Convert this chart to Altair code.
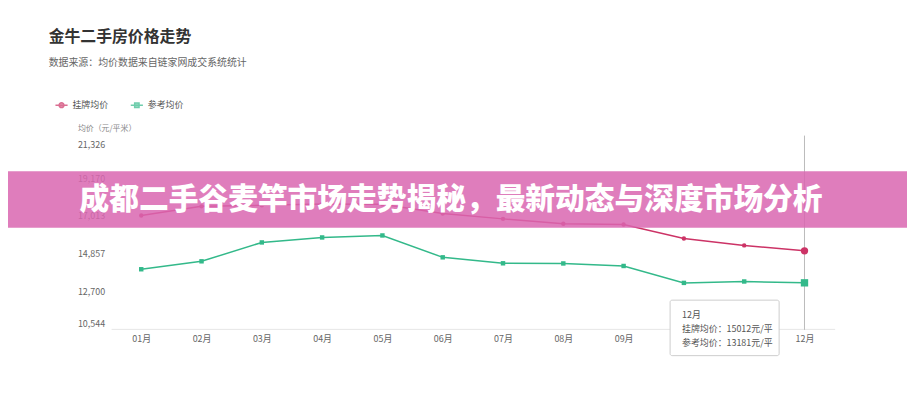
import altair as alt
import pandas as pd

# ---- data ----
months = ["01月", "02月", "03月", "04月", "05月", "06月", "07月", "08月", "09月", "10月", "11月", "12月"]
listing = [17031, 17560, 17620, 17700, 17680, 17145, 16843, 16560, 16520, 15722, 15324, 15012]
reference = [13958, 14413, 15494, 15779, 15893, 14641, 14299, 14290, 14146, 13178, 13258, 13181]
series_names = ["挂牌均价", "参考均价"]
y_ticks = [10544, 12700, 14857, 17013, 19170, 21326]
title_text = "金牛二手房价格走势"
subtitle_text = "数据来源：均价数据来自链家网成交系统统计"
y_title = "均价（元/平米）"
banner_text = "成都二手谷麦竿市场走势揭秘，最新动态与深度市场分析"
hover_month = "12月"

colors = ["#cc3366", "#33b98a"]
FONT = "Noto Sans CJK SC"

df = pd.DataFrame({
    "month": months * 2,
    "value": listing + reference,
    "series": [series_names[0]] * len(months) + [series_names[1]] * len(months),
})

x_enc = alt.X(
    "month:O", sort=months,
    scale=alt.Scale(type="point", padding=0.5),
    axis=alt.Axis(title=None, ticks=False, domainColor="#e6e6e6", labelColor="#666",
                  labelFontSize=9, labelPadding=6, labelAngle=0),
)
y_enc = alt.Y(
    "value:Q",
    scale=alt.Scale(domain=[y_ticks[0], y_ticks[-1]], nice=False, zero=False),
    axis=alt.Axis(values=y_ticks, format=",d", grid=False, domain=False, ticks=False,
                  labelAlign="left", labelPadding=34, labelFlush=True, labelColor="#666",
                  labelFontSize=9, title=y_title, titleAngle=0, titleAlign="left",
                  titleBaseline="middle", titleX=-34, titleY=-12, titleFontSize=8,
                  titleFontWeight="normal", titleColor="#888"),
)

base = alt.Chart(df)
red = base.transform_filter(alt.datum.series == series_names[0])
green = base.transform_filter(alt.datum.series == series_names[1])

size_enc = alt.condition(alt.datum.month == hover_month, alt.value(55), alt.value(20))

red_line = red.mark_line(color=colors[0], strokeWidth=1.5).encode(x=x_enc, y=y_enc)
green_line = green.mark_line(color=colors[1], strokeWidth=1.5).encode(x=x_enc, y=y_enc)
red_pts = red.mark_circle(color=colors[0], opacity=1).encode(x=x_enc, y=y_enc, size=size_enc)
green_pts = green.mark_square(color=colors[1], opacity=1).encode(x=x_enc, y=y_enc, size=size_enc)

legend_paths = [
    "M-1,0H1M-0.4,0A0.4,0.4,0,1,0,0.4,0A0.4,0.4,0,1,0,-0.4,0Z",
    "M-1,0H1M-0.36,-0.36H0.36V0.36H-0.36Z",
]
leg = alt.Legend(title=None, orient="none", legendX=-57, legendY=-43, direction="horizontal",
                 symbolSize=150, symbolStrokeWidth=1.5, labelFontSize=9, labelColor="#555",
                 labelOffset=4, columnPadding=18, padding=0)
legend_layer = base.mark_point(filled=True, size=0, strokeWidth=1.5).encode(
    x=x_enc, y=y_enc,
    fill=alt.Fill("series:N", scale=alt.Scale(domain=series_names, range=colors), legend=leg),
    stroke=alt.Stroke("series:N", scale=alt.Scale(domain=series_names, range=colors), legend=leg),
    shape=alt.Shape("series:N", scale=alt.Scale(domain=series_names, range=legend_paths), legend=leg),
)

hover_df = pd.DataFrame({"month": [hover_month]})
rule = alt.Chart(hover_df).mark_rule(color="#bbbbbb", strokeWidth=1).encode(
    x=alt.X("month:O", sort=months), y=alt.value(-5), y2=alt.value(191)
)

tip_df = pd.DataFrame({"tip": [
    f"{hover_month}\n{series_names[0]}：{listing[-1]}元/平\n{series_names[1]}：{reference[-1]}元/平"
]})
tip_box = alt.Chart(tip_df).mark_rect(fill="white", stroke="#cccccc", strokeWidth=1, cornerRadius=2).encode(
    x=alt.value(564), x2=alt.value(674), y=alt.value(161), y2=alt.value(217)
)
tip_text = alt.Chart(tip_df).mark_text(align="left", baseline="top", fontSize=9, color="#555",
                                       lineBreak="\n", lineHeight=14).encode(
    x=alt.value(576), y=alt.value(172), text="tip:N"
)

banner_df = pd.DataFrame({"label": [banner_text]})
banner_rect = alt.Chart(banner_df).mark_rect(fill="#d966b0", opacity=0.85).encode(
    x=alt.value(-120), x2=alt.value(810), y=alt.value(31), y2=alt.value(88)
)
banner_label = alt.Chart(banner_df).mark_text(align="center", baseline="middle", fontSize=30,
                                             fontWeight=900, color="white", font=FONT).encode(
    x=alt.value(343), y=alt.value(60), text="label:N"
)

chart = alt.layer(
    red_line, green_line, rule, red_pts, green_pts, legend_layer,
    tip_box, tip_text, banner_rect, banner_label,
).properties(
    width=730, height=190, autosize="none",
    padding={"left": 104, "top": 132, "right": 73, "bottom": 70},
    title=alt.TitleParams(text=title_text, subtitle=subtitle_text, anchor="start", dx=57,
                          offset=30, fontSize=16, fontWeight="bold", color="#333",
                          subtitleFontSize=10, subtitleColor="#666", subtitlePadding=13,
                          font=FONT, subtitleFont=FONT),
).configure(font=FONT).configure_view(stroke=None)

chart.save("out.html", embed_options={"renderer": "svg", "actions": False})
